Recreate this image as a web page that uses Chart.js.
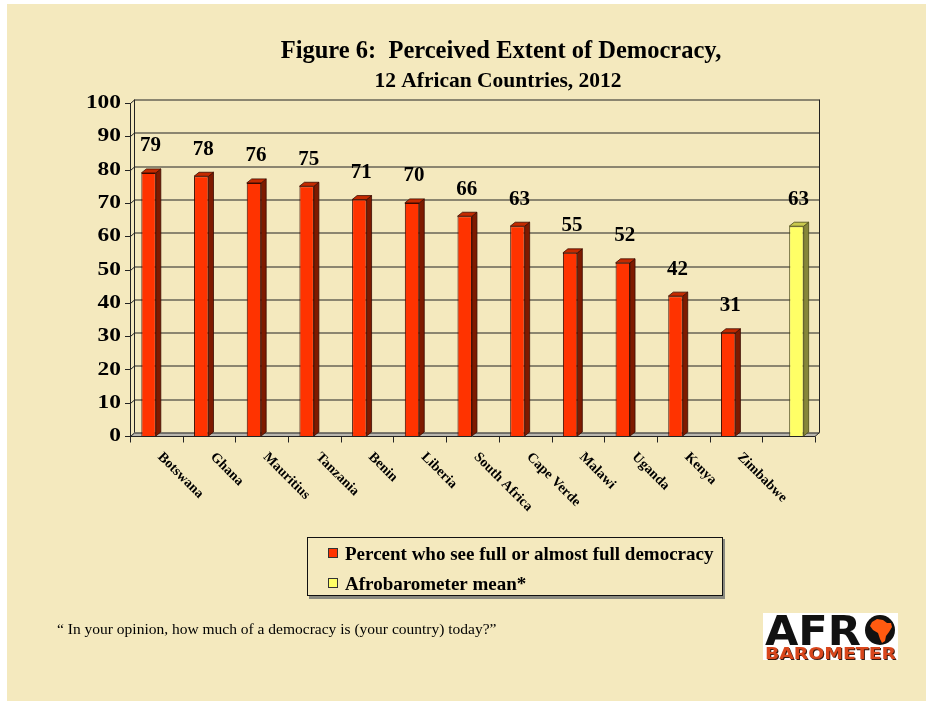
<!DOCTYPE html>
<html>
<head>
<meta charset="utf-8">
<script src="https://cdn.jsdelivr.net/npm/chart.js@4.4.1/dist/chart.umd.min.js"></script>
<style>
  html, body { margin: 0; padding: 0; background: #ffffff; }
  canvas { display: block; }
</style>
</head>
<body>
<canvas id="chart" width="933" height="705"></canvas>
<script>
// ---- data ----
const countries = ['Botswana', 'Ghana', 'Mauritius', 'Tanzania', 'Benin', 'Liberia',
                   'South Africa', 'Cape Verde', 'Malawi', 'Uganda', 'Kenya', 'Zimbabwe'];
const fullDemocracyPct = [79, 78, 76, 75, 71, 70, 66, 63, 55, 52, 42, 31];
const afrobarometerMean = 63;
const yTickValues = [0, 10, 20, 30, 40, 50, 60, 70, 80, 90, 100];
const seriesNames = ['Percent who see full or almost full democracy', 'Afrobarometer mean*'];
const titleLines = ['Figure 6:  Perceived Extent of Democracy,', '12 African Countries, 2012'];
const questionText = '\u201C In your opinion, how much of a democracy is (your country) today?\u201D';

// the mean gets its own unlabeled slot after the twelve countries
const categories = countries.concat(['']);
const countrySeries = fullDemocracyPct.concat([null]);
const meanSeries = countries.map(() => null).concat([afrobarometerMean]);

// ---- styling ----
const SERIF = '"Liberation Serif", "Times New Roman", serif';
const BG = '#F4E9BE';
const RED = { front: '#FF3300', side: '#7E1A00', top: '#C42A00', edge: '#3A0B00' };
const YEL = { front: '#FFFF66', side: '#86863A', top: '#C9C94E', edge: '#4A4A18' };
const BAR_DEPTH = { dx: 5, dy: 4 };
const WALL_DEPTH = { dx: 4, dy: 3.5 };

function line(ctx, x1, y1, x2, y2) {
  ctx.beginPath(); ctx.moveTo(x1, y1); ctx.lineTo(x2, y2); ctx.stroke();
}

// cream page, titles, footnote, logo, legend
const pagePlugin = {
  id: 'page',
  beforeDraw(chart) {
    const ctx = chart.ctx;
    ctx.save();
    ctx.fillStyle = '#ffffff';
    ctx.fillRect(0, 0, chart.width, chart.height);
    ctx.fillStyle = BG;
    ctx.fillRect(7, 4, 919, 697);

    ctx.fillStyle = '#000';
    ctx.textAlign = 'center';
    ctx.textBaseline = 'alphabetic';
    ctx.font = 'bold 24.5px ' + SERIF;
    ctx.fillText(titleLines[0], 501, 58);
    ctx.font = 'bold 21.5px ' + SERIF;
    ctx.fillText(titleLines[1], 498, 87);

    ctx.textAlign = 'left';
    ctx.font = '15.5px ' + SERIF;
    ctx.fillText(questionText, 57, 634);

    drawLogo(ctx);
    drawLegend(ctx);
    ctx.restore();
  }
};

function fitText(ctx, text, x, y, width) {
  const w = ctx.measureText(text).width;
  ctx.save();
  ctx.translate(x, y);
  ctx.scale(width / w, 1);
  ctx.fillText(text, 0, 0);
  ctx.restore();
}

function drawLogo(ctx) {
  ctx.save();
  ctx.fillStyle = '#ffffff';
  ctx.fillRect(763, 613, 135, 47);
  ctx.textAlign = 'left';
  ctx.textBaseline = 'alphabetic';
  ctx.fillStyle = '#111111';
  ctx.font = 'bold 40px "DejaVu Sans", sans-serif';
  fitText(ctx, 'AFR', 765, 645, 96);
  // the "O" holds a small map of the continent
  ctx.beginPath();
  ctx.arc(880, 630, 15, 0, Math.PI * 2);
  ctx.fill();
  ctx.fillStyle = '#FF5A10';
  ctx.beginPath();
  const africa = [[872,622],[877,619],[883,620],[887,623],[891,623],[892,627],[889,632],
                  [886,636],[885,641],[882,643],[880,639],[878,633],[873,630],[870,626]];
  africa.forEach(([px, py], k) => k ? ctx.lineTo(px, py) : ctx.moveTo(px, py));
  ctx.closePath();
  ctx.fill();
  ctx.fillStyle = '#3a1a10';
  ctx.font = 'bold 15px "DejaVu Sans", sans-serif';
  fitText(ctx, 'BAROMETER', 766, 660, 131);
  ctx.fillStyle = '#D8461C';
  fitText(ctx, 'BAROMETER', 765, 659, 131);
  ctx.restore();
}

function drawLegend(ctx) {
  ctx.save();
  ctx.fillStyle = '#8a8a80';
  ctx.fillRect(309, 539, 416, 60);
  ctx.fillStyle = BG;
  ctx.fillRect(307, 537, 416, 59);
  ctx.strokeStyle = '#111';
  ctx.lineWidth = 1;
  ctx.strokeRect(307.5, 537.5, 415, 58);

  const entries = [[RED, 553], [YEL, 583]];
  ctx.font = 'bold 19px ' + SERIF;
  ctx.textAlign = 'left';
  ctx.textBaseline = 'alphabetic';
  entries.forEach(([col, cy], k) => {
    ctx.fillStyle = col.front;
    ctx.fillRect(328.5, cy - 4.5, 9, 9);
    ctx.strokeStyle = '#333';
    ctx.strokeRect(328.5, cy - 4.5, 9, 9);
    ctx.fillStyle = '#000';
    ctx.fillText(seriesNames[k], 345, cy + 6.5);
  });
  ctx.restore();
}

// back wall, side wall, floor and gridlines
const wallPlugin = {
  id: 'wall',
  beforeDatasetsDraw(chart) {
    const ctx = chart.ctx;
    const xs = chart.scales.x, ys = chart.scales.y;
    const L = xs.left, R = xs.right;
    const y0 = ys.getPixelForValue(0), yTop = ys.getPixelForValue(100);
    const { dx, dy } = WALL_DEPTH;
    ctx.save();
    ctx.lineWidth = 1;
    ctx.strokeStyle = '#222222';

    // floor
    ctx.fillStyle = '#B9B6AE';
    ctx.beginPath();
    ctx.moveTo(L, y0); ctx.lineTo(R, y0); ctx.lineTo(R + dx, y0 - dy); ctx.lineTo(L + dx, y0 - dy);
    ctx.closePath();
    ctx.fill();

    // gridlines on side wall and back wall, with the front tick marks
    yTickValues.forEach(v => {
      const yf = Math.round(ys.getPixelForValue(v)) + 0.5;
      const yb = yf - dy;
      ctx.beginPath();
      ctx.moveTo(L - 5, yf);
      ctx.lineTo(L + 0.5, yf);
      ctx.lineTo(L + 0.5 + dx, yb);
      ctx.lineTo(R + dx + 0.5, yb);
      ctx.stroke();
    });

    // wall edges
    line(ctx, L + 0.5, yTop, L + 0.5, y0 + 0.5);
    line(ctx, L + dx + 0.5, yTop - dy, L + dx + 0.5, y0 - dy);
    line(ctx, R + dx + 0.5, yTop - dy, R + dx + 0.5, y0 - dy);
    // floor front edge and corner
    line(ctx, L, Math.round(y0) + 0.5, R, Math.round(y0) + 0.5);
    line(ctx, R, Math.round(y0) + 0.5, R + dx + 0.5, y0 - dy);

    // category boundary ticks
    const n = categories.length;
    const step = (R - L) / n;
    for (let i = 0; i <= n; i++) {
      const x = Math.round(L + i * step) + 0.5;
      line(ctx, x, Math.round(y0) + 0.5, x, Math.round(y0) + 6.5);
    }
    ctx.restore();
  }
};

// side and top faces of the columns, value labels, axis labels
const facePlugin = {
  id: 'faces',
  afterDatasetsDraw(chart) {
    const ctx = chart.ctx;
    const { dx, dy } = BAR_DEPTH;
    ctx.save();
    ctx.lineWidth = 0.8;
    chart.data.datasets.forEach((ds, di) => {
      const meta = chart.getDatasetMeta(di);
      const col = di === 0 ? RED : YEL;
      meta.data.forEach((bar, i) => {
        const v = ds.data[i];
        if (v === null || v === undefined) return;
        const { x, y, base, width } = bar.getProps(['x', 'y', 'base', 'width'], true);
        const l = x - width / 2, r = x + width / 2;
        ctx.strokeStyle = col.edge;
        ctx.fillStyle = col.side;
        ctx.beginPath();
        ctx.moveTo(r, y); ctx.lineTo(r + dx, y - dy); ctx.lineTo(r + dx, base - dy); ctx.lineTo(r, base);
        ctx.closePath(); ctx.fill(); ctx.stroke();
        ctx.fillStyle = col.top;
        ctx.beginPath();
        ctx.moveTo(l, y); ctx.lineTo(l + dx, y - dy); ctx.lineTo(r + dx, y - dy); ctx.lineTo(r, y);
        ctx.closePath(); ctx.fill(); ctx.stroke();

        ctx.fillStyle = '#000';
        ctx.font = 'bold 21px ' + SERIF;
        ctx.textAlign = 'center';
        ctx.textBaseline = 'middle';
        ctx.fillText(String(v), x + 2, y - 27);
      });
    });

    // y-axis numbers (wide bold serif)
    const ys = chart.scales.y, xs = chart.scales.x;
    ctx.fillStyle = '#000';
    ctx.font = 'bold 18px ' + SERIF;
    ctx.textAlign = 'right';
    ctx.textBaseline = 'middle';
    yTickValues.forEach(v => {
      ctx.save();
      ctx.translate(xs.left - 9, ys.getPixelForValue(v) + 0.5);
      ctx.scale(1.3, 1);
      ctx.fillText(String(v), 0, 0);
      ctx.restore();
    });

    // slanted country names
    ctx.font = 'bold 14px ' + SERIF;
    ctx.textAlign = 'left';
    ctx.textBaseline = 'top';
    const yLab = ys.getPixelForValue(0) + 14;
    countries.forEach((name, i) => {
      ctx.save();
      ctx.translate(xs.getPixelForValue(i) + 8.5, yLab);
      ctx.rotate(Math.PI / 4);
      ctx.fillText(name, 0, 0);
      ctx.restore();
    });
    ctx.restore();
  }
};

new Chart(document.getElementById('chart'), {
  type: 'bar',
  data: {
    labels: categories,
    datasets: [
      {
        label: seriesNames[0],
        data: countrySeries,
        backgroundColor: RED.front,
        borderColor: RED.edge,
        borderWidth: 1,
        categoryPercentage: 0.59,
        barPercentage: 0.93
      },
      {
        label: seriesNames[1],
        data: meanSeries,
        backgroundColor: YEL.front,
        borderColor: YEL.edge,
        borderWidth: 1,
        categoryPercentage: 0.59,
        barPercentage: 0.93
      }
    ]
  },
  options: {
    responsive: false,
    animation: false,
    devicePixelRatio: 1,
    layout: { padding: { left: 130, right: 118, top: 103, bottom: 269 } },
    plugins: {
      legend: { display: false },
      tooltip: { enabled: false },
      title: { display: false }
    },
    scales: {
      x: { display: false },
      y: { display: false, min: 0, max: 100, ticks: { stepSize: 10 } }
    }
  },
  plugins: [pagePlugin, wallPlugin, facePlugin]
});
</script>
</body>
</html>
